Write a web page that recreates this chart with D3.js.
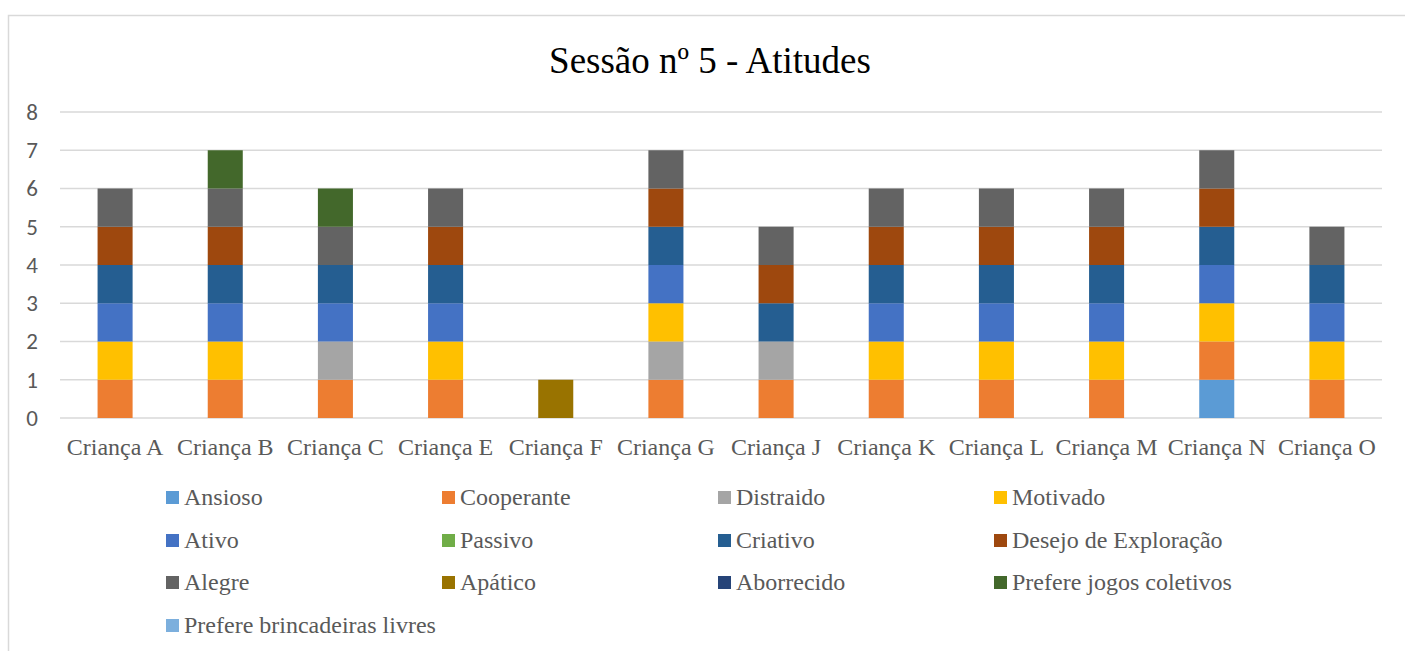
<!DOCTYPE html>
<html><head><meta charset="utf-8">
<script src="https://cdn.jsdelivr.net/npm/d3@7"></script>
<style>html,body{margin:0;padding:0;background:#fff;}svg{display:block;}</style>
</head><body>
<svg id="chart" width="1405" height="651"></svg>
<script>
const categories = ["Criança A","Criança B","Criança C","Criança E","Criança F","Criança G","Criança J","Criança K","Criança L","Criança M","Criança N","Criança O"];
const seriesNames = ["Ansioso","Cooperante","Distraido","Motivado","Ativo","Passivo","Criativo","Desejo de Exploração","Alegre","Apático","Aborrecido","Prefere jogos coletivos","Prefere brincadeiras livres"];
const seriesColors = ["#5B9BD5","#ED7D31","#A5A5A5","#FFC000","#4472C4","#70AD47","#255E91","#9E480E","#636363","#997300","#264478","#43682B","#7CAFDD"];
// values per series, one per category (A,B,C,E,F,G,J,K,L,M,N,O)
const ansioso     = [0,0,0,0,0,0,0,0,0,0,1,0];
const cooperante  = [1,1,1,1,0,1,1,1,1,1,1,1];
const distraido   = [0,0,1,0,0,1,1,0,0,0,0,0];
const motivado    = [1,1,0,1,0,1,0,1,1,1,1,1];
const ativo       = [1,1,1,1,0,1,0,1,1,1,1,1];
const passivo     = [0,0,0,0,0,0,0,0,0,0,0,0];
const criativo    = [1,1,1,1,0,1,1,1,1,1,1,1];
const desejo      = [1,1,0,1,0,1,1,1,1,1,1,0];
const alegre      = [1,1,1,1,0,1,1,1,1,1,1,1];
const apatico     = [0,0,0,0,1,0,0,0,0,0,0,0];
const aborrecido  = [0,0,0,0,0,0,0,0,0,0,0,0];
const jogosColetivos = [0,1,1,0,0,0,0,0,0,0,0,0];
const brincadeirasLivres = [0,0,0,0,0,0,0,0,0,0,0,0];
const yTicks = [0,1,2,3,4,5,6,7,8];
const title = "Sessão nº 5 - Atitudes";

(function(){
const seriesValues = [ansioso,cooperante,distraido,motivado,ativo,passivo,criativo,desejo,alegre,apatico,aborrecido,jogosColetivos,brincadeirasLivres];
const rows = categories.map((c,i)=>{const r={cat:c}; seriesNames.forEach((s,j)=>r[s]=seriesValues[j][i]); return r;});
const stack = d3.stack().keys(seriesNames)(rows);

const svg = d3.select("#chart");

svg.append("rect").attr("x",8.5).attr("y",15.5).attr("width",1410).attr("height",650)
  .attr("fill","#fff").attr("stroke","#d9d9d9").attr("stroke-width",1.5);

const pLeft = 60, pRight = 1382, pTop = 112, pBottom = 418;
const x = d3.scaleBand().domain(categories).range([pLeft,pRight]).paddingInner(0.682).paddingOuter(0.341);
const y = d3.scaleLinear().domain([0,8]).range([pBottom,pTop]);

svg.append("g").selectAll("line").data(yTicks).join("line")
  .attr("x1",pLeft).attr("x2",pRight).attr("y1",d=>y(d)).attr("y2",d=>y(d))
  .attr("stroke","#d9d9d9").attr("stroke-width",1.5);

const yAxis = d3.axisLeft(y).tickValues(yTicks).tickSize(0).tickPadding(0).tickFormat(d3.format("d"));
const yg = svg.append("g").attr("transform",`translate(38,0)`).call(yAxis);
yg.attr("font-family","Carlito").attr("font-size",23);
yg.select(".domain").remove();
yg.selectAll("text").attr("fill","#595959");

svg.append("g").selectAll("g").data(stack).join("g")
  .attr("fill",(d,i)=>seriesColors[i])
  .selectAll("rect").data(d=>d.filter(p=>p[1]-p[0]>0)).join("rect")
  .attr("x",d=>x(d.data.cat)).attr("width",x.bandwidth())
  .attr("y",d=>y(d[1])).attr("height",d=>y(d[0])-y(d[1]));

const xAxis = d3.axisBottom(x).tickSize(0).tickPadding(0);
const xg = svg.append("g").attr("transform",`translate(0,${pBottom+20})`).call(xAxis);
xg.attr("font-family","Liberation Serif").attr("font-size",24);
xg.select(".domain").remove();
xg.selectAll("text").attr("fill","#595959");

svg.append("text").attr("x",710).attr("y",73).attr("text-anchor","middle")
  .attr("font-family","Liberation Serif").attr("font-size",37).attr("fill","#000").text(title);

const colX = [166,442,718,994];
const rowY = [497,540,582,625];
const lg = svg.append("g").attr("font-family","Liberation Serif").attr("font-size",24)
  .selectAll("g").data(seriesNames).join("g")
  .attr("transform",(d,i)=>`translate(${colX[i%4]},${rowY[Math.floor(i/4)]})`);
lg.append("rect").attr("x",0).attr("y",-6).attr("width",13).attr("height",13).attr("fill",(d,i)=>seriesColors[i]);
lg.append("text").attr("x",18).attr("y",8).attr("fill","#595959").text(d=>d);
})();
</script>
</body></html>
